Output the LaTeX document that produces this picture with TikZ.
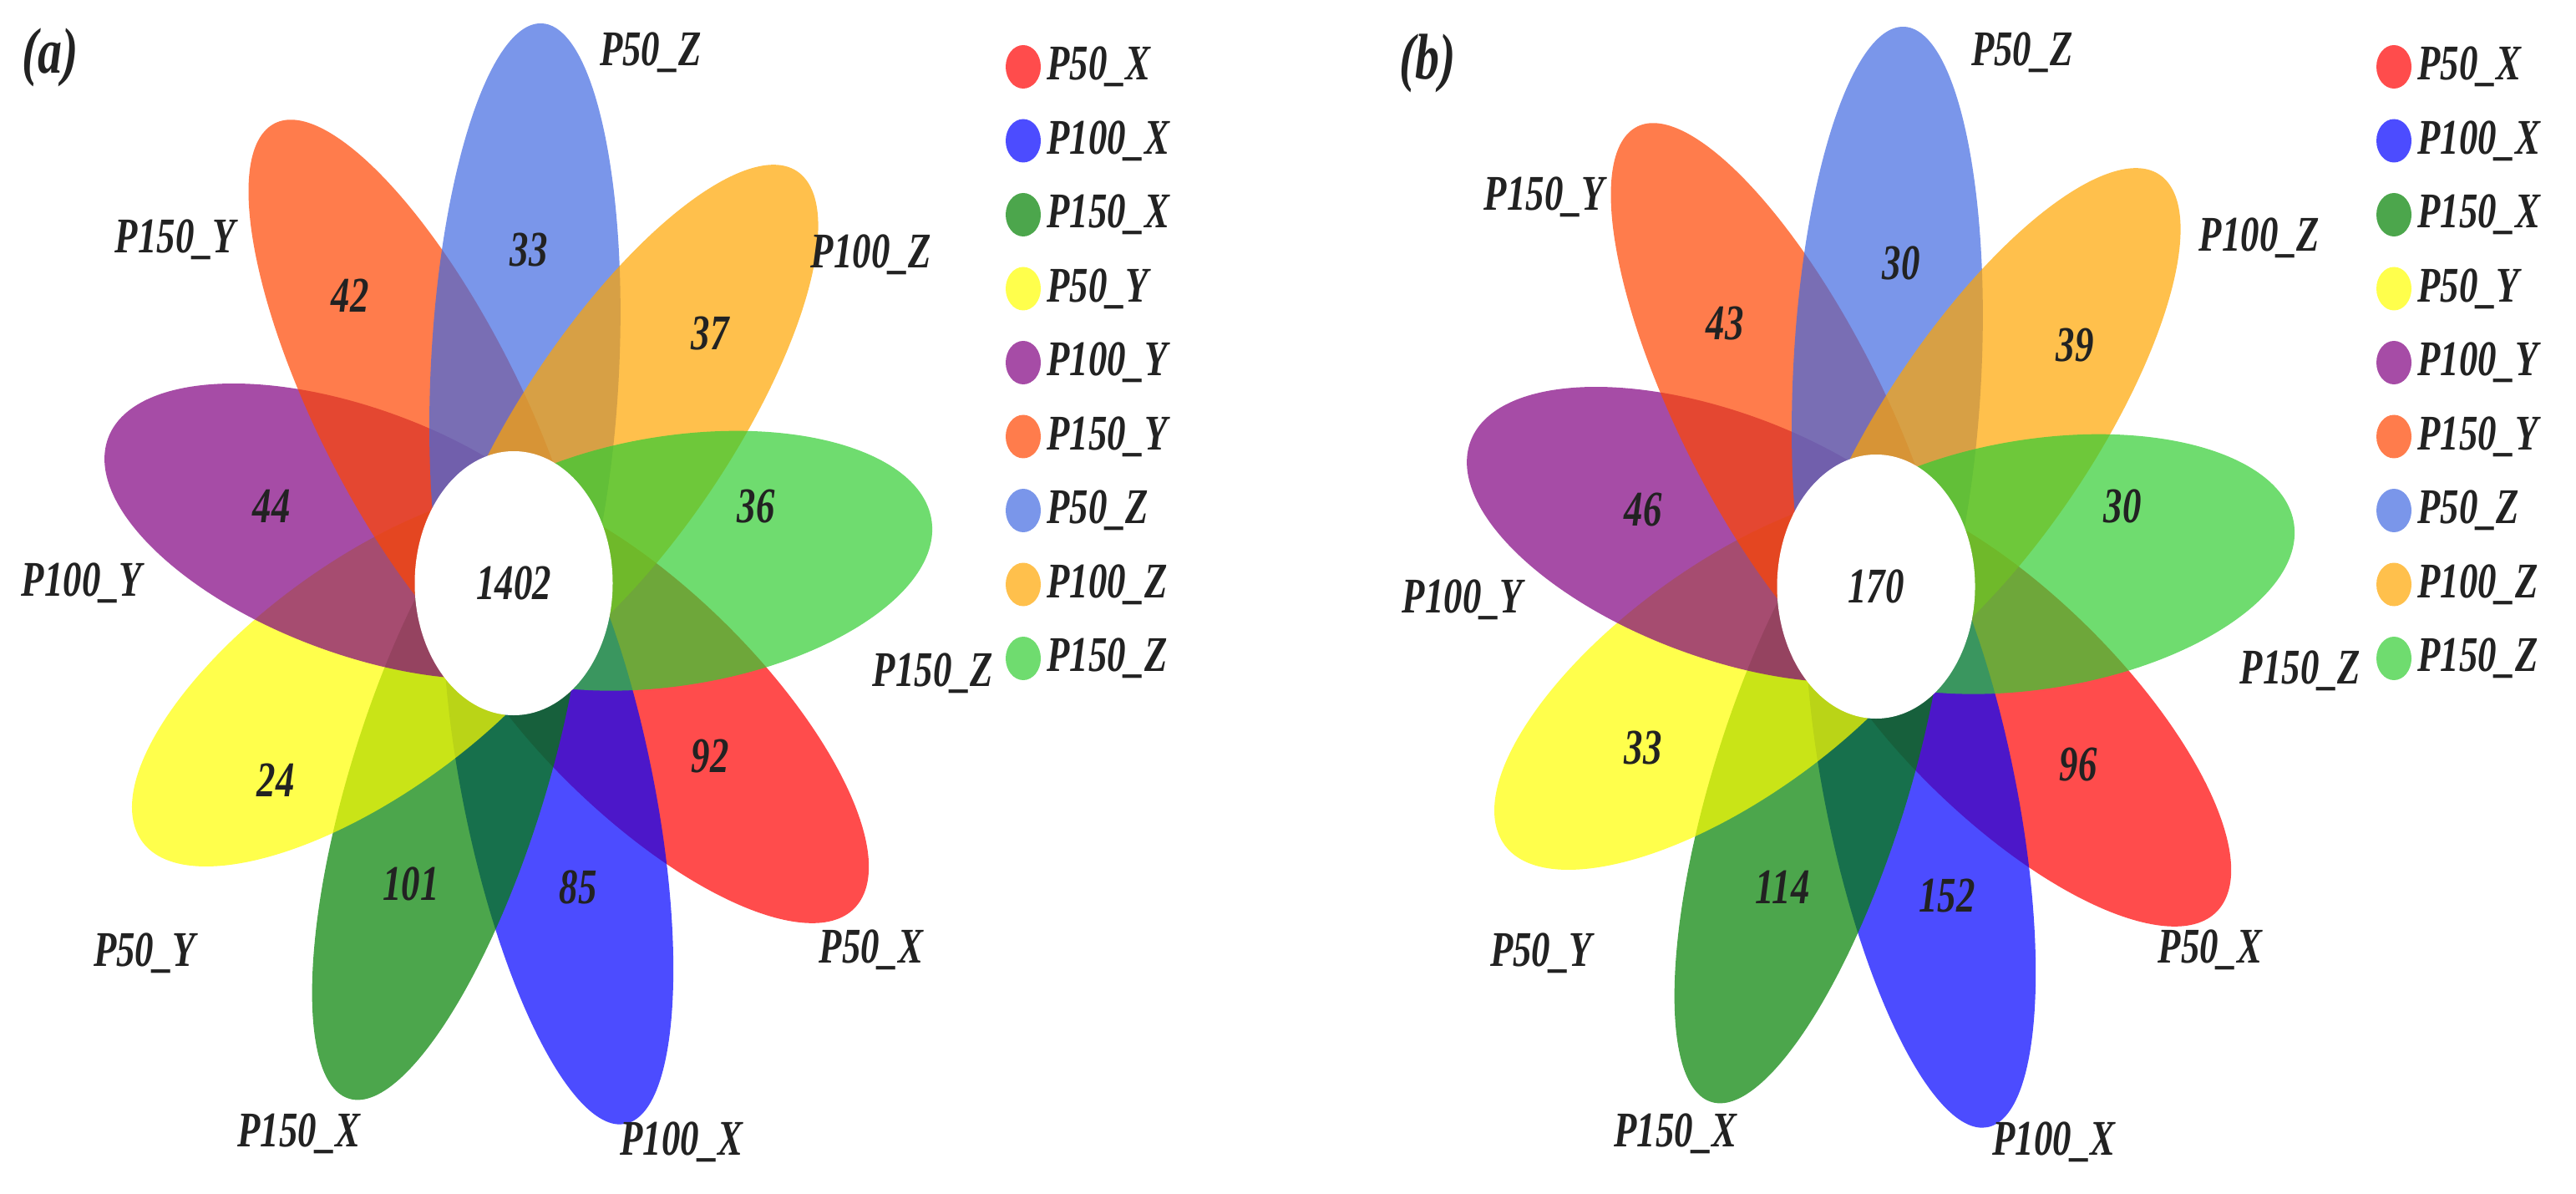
\documentclass[tikz,border=0pt]{standalone}
\usepackage{fontspec}
\setmainfont{Liberation Serif}
\newfontfamily\narrowfont{Liberation Serif}[FakeStretch=0.75]
\usepackage{tikz}

\begin{document}
\begin{tikzpicture}
    \definecolor{myred}{RGB}{255,0,0}
    \definecolor{myblue}{RGB}{0,0,255}
    \definecolor{mygreen}{RGB}{0,128,0}
    \definecolor{myyellow}{RGB}{255,255,0}
    \definecolor{mypurple}{RGB}{128,0,128}
    \definecolor{myorangered}{RGB}{255,69,0}
    \definecolor{myroyal}{RGB}{65,105,225}
    \definecolor{myorange}{RGB}{255,165,0}
    \definecolor{mylime}{RGB}{50,205,50}
    \definecolor{mytext}{RGB}{34,34,34}

    \tikzstyle{petal}=[fill opacity=0.7]  % petal fill
    \tikzstyle{lab}=[text=mytext,font=\narrowfont\fontsize{17pt}{17pt}\selectfont\bfseries\itshape]
    \tikzstyle{num}=[text=mytext,font=\narrowfont\fontsize{17pt}{17pt}\selectfont\bfseries\itshape]
    \tikzstyle{title}=[text=mytext,font=\narrowfont\fontsize{22pt}{22pt}\selectfont\bfseries\itshape]

    \useasboundingbox (0,0) rectangle (30.84,14.28);

    % panel (a)
    \begin{scope}[shift={(6.15,7.30)},xscale=0.75,scale=1.58]
        \fill[petal,myred,rotate=-34] (1.625,0) ellipse [x radius=2.625,y radius=0.95];
        \fill[petal,myblue,rotate=-74] (1.625,0) ellipse [x radius=2.625,y radius=0.95];
        \fill[petal,mygreen,rotate=-114] (1.625,0) ellipse [x radius=2.625,y radius=0.95];
        \fill[petal,myyellow,rotate=-154] (1.625,0) ellipse [x radius=2.625,y radius=0.95];
        \fill[petal,mypurple,rotate=166] (1.625,0) ellipse [x radius=2.625,y radius=0.95];
        \fill[petal,myorangered,rotate=126] (1.625,0) ellipse [x radius=2.625,y radius=0.95];
        \fill[petal,myroyal,rotate=86] (1.625,0) ellipse [x radius=2.625,y radius=0.95];
        \fill[petal,myorange,rotate=46] (1.625,0) ellipse [x radius=2.625,y radius=0.95];
        \fill[petal,mylime,rotate=6] (1.625,0) ellipse [x radius=2.625,y radius=0.95];
        \fill[white] (0,0) circle [radius=1];
    \end{scope}
    \node[title] (a-title) at (0.60,13.59) {(a)};
    \node[num] (a-core) at (6.15,7.30) {1402};
    \node[num] (a-n50x) at (8.50,5.23) {92};
    \node[num] (a-n100x) at (6.92,3.66) {85};
    \node[num] (a-n150x) at (4.92,3.70) {101};
    \node[num] (a-n50y) at (3.30,4.94) {24};
    \node[num] (a-n100y) at (3.25,8.22) {44};
    \node[num] (a-n150y) at (4.19,10.74) {42};
    \node[num] (a-n50z) at (6.33,11.29) {33};
    \node[num] (a-n100z) at (8.50,10.29) {37};
    \node[num] (a-n150z) at (9.05,8.22) {36};
    \node[lab] (a-l50x) at (10.43,2.91) {P50\_X};
    \node[lab] (a-l100x) at (8.16,0.61) {P100\_X};
    \node[lab] (a-l150x) at (3.58,0.71) {P150\_X};
    \node[lab] (a-l50y) at (1.73,2.87) {P50\_Y};
    \node[lab] (a-l100y) at (0.98,7.30) {P100\_Y};
    \node[lab] (a-l150y) at (2.10,11.41) {P150\_Y};
    \node[lab] (a-l50z) at (7.79,13.65) {P50\_Z};
    \node[lab] (a-l100z) at (10.43,11.23) {P100\_Z};
    \node[lab] (a-l150z) at (11.17,6.22) {P150\_Z};

    % panel (b)
    \begin{scope}[shift={(22.46,7.26)},xscale=0.75,scale=1.58]
        \fill[petal,myred,rotate=-34] (1.625,0) ellipse [x radius=2.625,y radius=0.95];
        \fill[petal,myblue,rotate=-74] (1.625,0) ellipse [x radius=2.625,y radius=0.95];
        \fill[petal,mygreen,rotate=-114] (1.625,0) ellipse [x radius=2.625,y radius=0.95];
        \fill[petal,myyellow,rotate=-154] (1.625,0) ellipse [x radius=2.625,y radius=0.95];
        \fill[petal,mypurple,rotate=166] (1.625,0) ellipse [x radius=2.625,y radius=0.95];
        \fill[petal,myorangered,rotate=126] (1.625,0) ellipse [x radius=2.625,y radius=0.95];
        \fill[petal,myroyal,rotate=86] (1.625,0) ellipse [x radius=2.625,y radius=0.95];
        \fill[petal,myorange,rotate=46] (1.625,0) ellipse [x radius=2.625,y radius=0.95];
        \fill[petal,mylime,rotate=6] (1.625,0) ellipse [x radius=2.625,y radius=0.95];
        \fill[white] (0,0) circle [radius=1];
    \end{scope}
    \node[title] (b-title) at (17.09,13.52) {(b)};
    \node[num] (b-core) at (22.46,7.26) {170};
    \node[num] (b-n50x) at (24.88,5.13) {96};
    \node[num] (b-n100x) at (23.31,3.56) {152};
    \node[num] (b-n150x) at (21.34,3.66) {114};
    \node[num] (b-n50y) at (19.67,5.33) {33};
    \node[num] (b-n100y) at (19.67,8.18) {46};
    \node[num] (b-n150y) at (20.65,10.41) {43};
    \node[num] (b-n50z) at (22.76,11.13) {30};
    \node[num] (b-n100z) at (24.84,10.15) {39};
    \node[num] (b-n150z) at (25.41,8.22) {30};
    \node[lab] (b-l50x) at (26.46,2.91) {P50\_X};
    \node[lab] (b-l100x) at (24.59,0.61) {P100\_X};
    \node[lab] (b-l150x) at (20.06,0.71) {P150\_X};
    \node[lab] (b-l50y) at (18.45,2.87) {P50\_Y};
    \node[lab] (b-l100y) at (17.51,7.10) {P100\_Y};
    \node[lab] (b-l150y) at (18.49,11.92) {P150\_Y};
    \node[lab] (b-l50z) at (24.21,13.65) {P50\_Z};
    \node[lab] (b-l100z) at (27.05,11.43) {P100\_Z};
    \node[lab] (b-l150z) at (27.54,6.25) {P150\_Z};

    % legends
    \foreach \p/\x in {a/12.25,b/28.66}{
        \foreach \c/\t [count=\i from 0] in {myred/P50\_X,myblue/P100\_X,mygreen/P150\_X,
            myyellow/P50\_Y,mypurple/P100\_Y,myorangered/P150\_Y,
            myroyal/P50\_Z,myorange/P100\_Z,mylime/P150\_Z}{
            \fill[petal,\c] (\x,13.48-0.885*\i) ellipse [x radius=0.21,y radius=0.26];
            \node[lab,anchor=west,inner sep=1pt] (\p-key\i) at (\x+0.24,13.48-0.885*\i) {\t};
        }
    }
\end{tikzpicture}
\end{document}
